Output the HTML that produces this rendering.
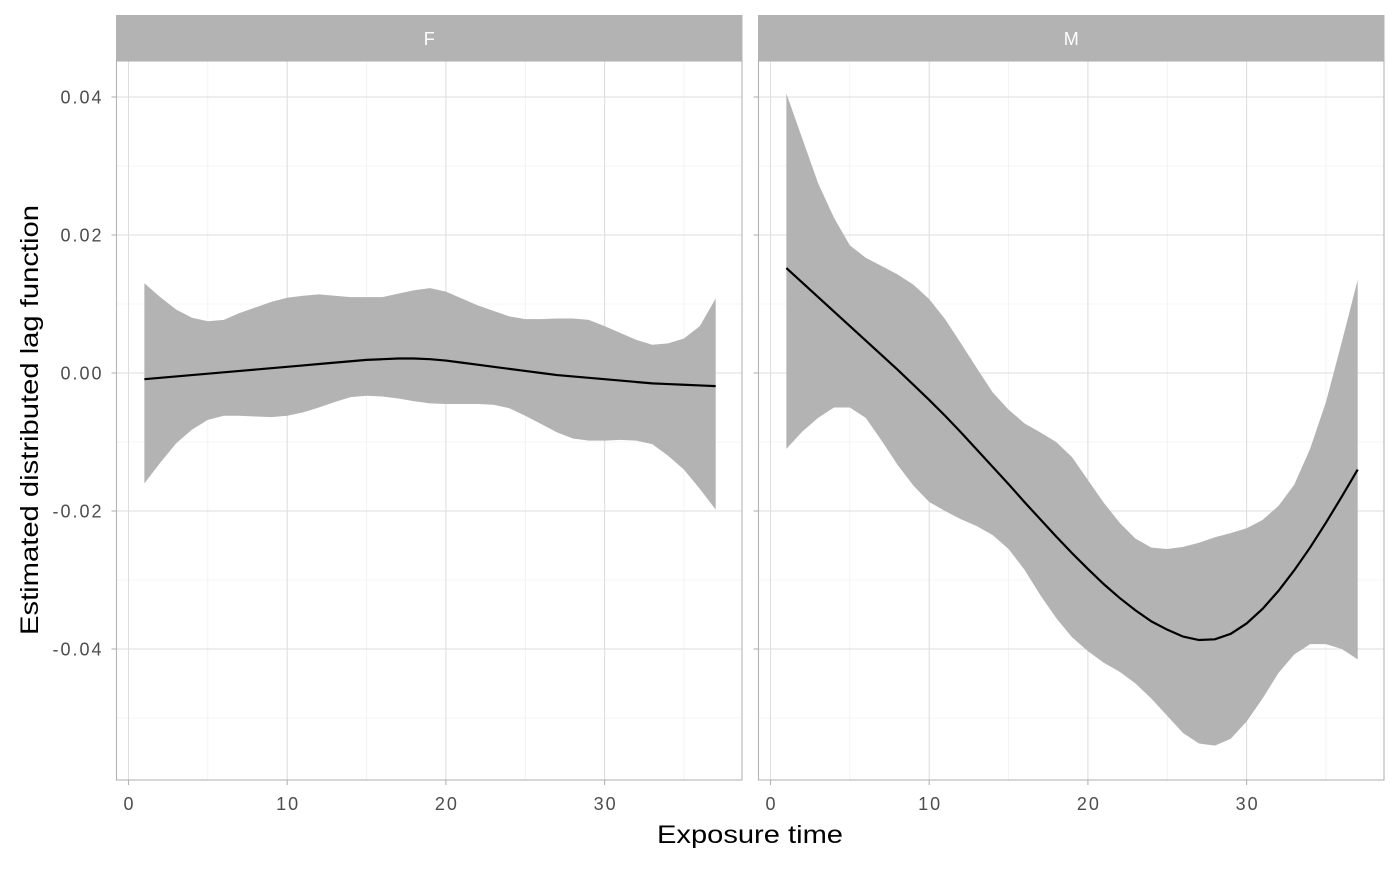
<!DOCTYPE html>
<html><head><meta charset="utf-8"><style>
body{margin:0;background:#fff;font-family:"Liberation Sans",sans-serif}
</style></head><body>
<svg id="chart" width="1400" height="865" xmlns="http://www.w3.org/2000/svg" font-family="Liberation Sans, sans-serif"></svg>
<script>
const xs = [1,2,3,4,5,6,7,8,9,10,11,12,13,14,15,16,17,18,19,20,21,22,23,24,25,26,27,28,29,30,31,32,33,34,35,36,37];
const fUpper = [0.013,0.011,0.0092,0.008,0.0075,0.0077,0.0087,0.0095,0.0103,0.0109,0.0112,0.0114,0.0112,0.011,0.011,0.011,0.0115,0.012,0.0123,0.0118,0.0108,0.0098,0.009,0.0082,0.0078,0.0078,0.0079,0.0079,0.0077,0.0068,0.0058,0.0048,0.0041,0.0043,0.005,0.0068,0.0108];
const fLower = [-0.016,-0.013,-0.0102,-0.0082,-0.0068,-0.0062,-0.0062,-0.0063,-0.0064,-0.0062,-0.0057,-0.005,-0.0042,-0.0035,-0.0033,-0.0034,-0.0037,-0.0041,-0.0044,-0.0045,-0.0045,-0.0045,-0.0046,-0.0051,-0.0062,-0.0074,-0.0086,-0.0095,-0.0098,-0.0098,-0.0097,-0.0098,-0.0103,-0.012,-0.014,-0.0168,-0.0198];
const fEst = [-0.0009,-0.0007,-0.0005,-0.0003,-0.0001,0.0001,0.0003,0.0005,0.0007,0.0009,0.0011,0.0013,0.0015,0.0017,0.0019,0.002,0.0021,0.0021,0.002,0.0018,0.0015,0.0012,0.0009,0.0006,0.0003,0.0,-0.0003,-0.0005,-0.0007,-0.0009,-0.0011,-0.0013,-0.0015,-0.0016,-0.0017,-0.0018,-0.0019];
const mUpper = [0.0405,0.034,0.0275,0.0225,0.0185,0.0167,0.0155,0.0143,0.0128,0.0107,0.0078,0.0043,0.0007,-0.0028,-0.0053,-0.0073,-0.0086,-0.01,-0.0122,-0.0155,-0.0188,-0.0217,-0.024,-0.0253,-0.0255,-0.0252,-0.0246,-0.0238,-0.0232,-0.0225,-0.0213,-0.0193,-0.0162,-0.011,-0.0042,0.0045,0.0135];
const mLower = [-0.011,-0.0085,-0.0065,-0.005,-0.005,-0.0065,-0.0098,-0.0133,-0.0163,-0.0187,-0.02,-0.0212,-0.0222,-0.0235,-0.0255,-0.0285,-0.0322,-0.0355,-0.0383,-0.0403,-0.042,-0.0433,-0.045,-0.0472,-0.0497,-0.0522,-0.0537,-0.054,-0.053,-0.0505,-0.0472,-0.0435,-0.0408,-0.0393,-0.0393,-0.04,-0.0415];
const mEst = [0.0152,0.0131,0.011,0.0089,0.0068,0.0047,0.0026,0.0005,-0.0017,-0.0039,-0.0062,-0.0086,-0.0111,-0.0136,-0.0161,-0.0187,-0.0212,-0.0237,-0.0261,-0.0284,-0.0306,-0.0326,-0.0344,-0.036,-0.0372,-0.0382,-0.0387,-0.0386,-0.0378,-0.0363,-0.0342,-0.0316,-0.0286,-0.0253,-0.0217,-0.0179,-0.014];
const xTicks = [0,10,20,30];
const xMinor = [5,15,25,35];
const yTicks = [0.04,0.02,0,-0.02,-0.04];
const yTickLabels = ["0.04","0.02","0.00","-0.02","-0.04"];
const yMinor = [0.03,0.01,-0.01,-0.03,-0.05];
const panelNames = ["F","M"];

const svg = document.getElementById('chart');
const NS = 'http://www.w3.org/2000/svg';
function mk(tag, attrs, parent){const e=document.createElementNS(NS,tag);for(const k in attrs)e.setAttribute(k,attrs[k]);(parent||svg).appendChild(e);return e;}
const pTop=61, pBottom=780;
const yS = v => 373 - v*6900;
const panels = [{left:116.5,right:742,up:fUpper,lo:fLower,est:fEst},{left:758.5,right:1384,up:mUpper,lo:mLower,est:mEst}];
panels.forEach((p,i)=>{
  const x = v => p.left + 12 + v*15.87;
  const g = mk('g',{});
  
  
  yMinor.forEach(v=>mk('line',{x1:p.left,x2:p.right,y1:yS(v),y2:yS(v),stroke:'#ebebeb','stroke-width':0.6},g));
  xMinor.forEach(v=>mk('line',{x1:x(v),x2:x(v),y1:pTop,y2:pBottom,stroke:'#ebebeb','stroke-width':0.6},g));
  yTicks.forEach(v=>mk('line',{x1:p.left,x2:p.right,y1:yS(v),y2:yS(v),stroke:'#dedede','stroke-width':1.1},g));
  xTicks.forEach(v=>mk('line',{x1:x(v),x2:x(v),y1:pTop,y2:pBottom,stroke:'#dedede','stroke-width':1.1},g));
  let d = xs.map((v,k)=>(k?'L':'M')+x(v)+','+yS(p.up[k])).join('');
  for(let k=xs.length-1;k>=0;k--) d+='L'+x(xs[k])+','+yS(p.lo[k]);
  const band = mk('path',{d:d+'Z',fill:'#b3b3b3'},g);
  
  
  const line = mk('path',{d:xs.map((v,k)=>(k?'L':'M')+x(v)+','+yS(p.est[k])).join(''),fill:'none',stroke:'#000','stroke-width':2.2},g);
  
  
  mk('rect',{x:p.left,y:pTop,width:p.right-p.left,height:pBottom-pTop,fill:'none',stroke:'#b3b3b3','stroke-width':1.1},g);
  const strip = mk('rect',{x:p.left-0.5,y:15,width:p.right-p.left+1,height:46,fill:'#b3b3b3'},g);
  
  
  const st = mk('text',{x:(p.left+p.right)/2,y:45,'text-anchor':'middle','font-size':18,fill:'#fff'},g);
  st.textContent = panelNames[i];
  xTicks.forEach(v=>{
    mk('line',{x1:x(v),x2:x(v),y1:pBottom,y2:pBottom+5,stroke:'#b3b3b3','stroke-width':1.1},g);
    const t = mk('text',{x:x(v)+1,y:pBottom+30,'text-anchor':'middle','font-size':18,'letter-spacing':2,fill:'#4d4d4d'},g);
    
    
    t.textContent = v;
  });
  yTicks.forEach((v,k)=>{
    mk('line',{x1:p.left-5,x2:p.left,y1:yS(v),y2:yS(v),stroke:'#b3b3b3','stroke-width':1.1},g);
    if(i===0){
      const t = mk('text',{x:p.left-13,y:yS(v)+6.5,'text-anchor':'end','font-size':18,'letter-spacing':2,fill:'#4d4d4d'},g);
      
      
      t.textContent = yTickLabels[k];
    }
  });
});
const xt = mk('text',{x:657,y:843,'font-size':25,fill:'#000',textLength:186,lengthAdjust:'spacingAndGlyphs'});


xt.textContent='Exposure time';
const yt = mk('text',{x:0,y:0,'font-size':25,fill:'#000',textLength:430,lengthAdjust:'spacingAndGlyphs',transform:'translate(38,635) rotate(-90)'});


yt.textContent='Estimated distributed lag function';
</script>
</body></html>
